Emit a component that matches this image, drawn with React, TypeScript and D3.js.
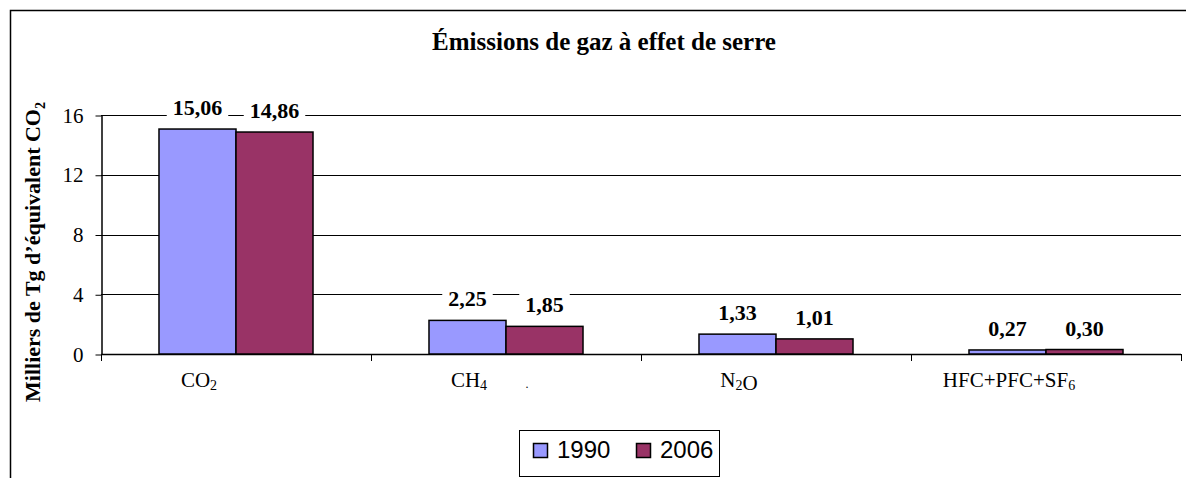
import React, { useEffect, useRef } from 'react';
import * as d3 from 'd3';

// data (milliers de Tg d'équivalent CO2)
const categories = ['CO2', 'CH4', 'N2O', 'HFC+PFC+SF6'];
const categoryLabels = [
  [['CO', false], ['2', true]],
  [['CH', false], ['4', true]],
  [['N', false], ['2', true], ['O', false]],
  [['HFC+PFC+SF', false], ['6', true]],
];
const years = ['1990', '2006'];
const values1990 = [15.06, 2.25, 1.33, 0.27];
const values2006 = [14.86, 1.85, 1.01, 0.3];
const yTicks = [0, 4, 8, 12, 16];
const colors = ['#9999FF', '#993366'];

const title = 'Émissions de gaz à effet de serre';
const yTitle = 'Milliers de Tg d\u2019équivalent CO';

const serif = '"Liberation Serif", "Times New Roman", serif';
const sans = '"Liberation Sans", Arial, sans-serif';

const width = 1186;
const height = 478;

function App() {
  const ref = useRef(null);

  useEffect(() => {
    const svg = d3.select(ref.current);
    svg.selectAll('*').remove();

    const x = d3.scaleBand().domain(categories).range([101, 1181]).padding(0);
    const xs = d3
      .scaleBand()
      .domain(years)
      .range([0, x.bandwidth()])
      .paddingInner(0)
      .paddingOuter(0.753);
    const y = d3.scaleLinear().domain([0, 16]).range([354, 115]);
    const fr = d3.formatLocale({ decimal: ',', thousands: ' ', grouping: [3], currency: ['', ''] });
    const fmt = fr.format('.2f');

    // outer frame (runs off the bottom/right of the picture)
    svg
      .append('rect')
      .attr('x', 10.5)
      .attr('y', 10.5)
      .attr('width', 1200)
      .attr('height', 500)
      .attr('fill', 'white')
      .attr('stroke', '#000')
      .attr('stroke-width', 1.5);

    // title
    svg
      .append('text')
      .attr('x', 604)
      .attr('y', 50)
      .attr('text-anchor', 'middle')
      .style('font-family', serif)
      .style('font-weight', 'bold')
      .style('font-size', '25px')
      .text(title);

    // y title
    const yt = svg
      .append('text')
      .attr('transform', 'translate(40,252) rotate(-90)')
      .attr('text-anchor', 'middle')
      .style('font-family', serif)
      .style('font-weight', 'bold')
      .style('font-size', '22px');
    yt.append('tspan').text(yTitle);
    yt.append('tspan').attr('dy', 5).style('font-size', '14px').text('2');

    // gridlines
    svg
      .append('g')
      .selectAll('line')
      .data(yTicks.filter((t) => t > 0))
      .join('line')
      .attr('x1', 101)
      .attr('x2', 1181)
      .attr('y1', (d) => Math.round(y(d)) + 0.5)
      .attr('y2', (d) => Math.round(y(d)) + 0.5)
      .attr('stroke', '#000')
      .attr('stroke-width', 1);

    // y axis
    const yAxis = d3.axisLeft(y).tickValues(yTicks).tickSize(6).tickSizeOuter(0).tickPadding(12);
    const gy = svg.append('g').attr('transform', 'translate(101.5,0.5)').call(yAxis);
    gy.selectAll('text')
      .style('font-family', serif)
      .style('font-size', '21px')
      .attr('fill', '#000');
    gy.selectAll('line').attr('stroke', '#000');
    gy.select('.domain').attr('stroke', '#000').attr('stroke-width', 1.5);

    // x axis
    const gx = svg.append('g');
    gx.append('line')
      .attr('x1', 101)
      .attr('x2', 1181)
      .attr('y1', y(0) + 0.5)
      .attr('y2', y(0) + 0.5)
      .attr('stroke', '#000')
      .attr('stroke-width', 1.5);
    const bounds = categories.map((c) => x(c)).concat([x.range()[1]]);
    gx.selectAll('.tick')
      .data(bounds)
      .join('line')
      .attr('class', 'tick')
      .attr('x1', (d) => d + 0.5)
      .attr('x2', (d) => d + 0.5)
      .attr('y1', y(0))
      .attr('y2', y(0) + 7)
      .attr('stroke', '#000');

    const labels = gx
      .selectAll('.cat')
      .data(categories)
      .join('text')
      .attr('class', 'cat')
      .attr('x', (d) => x(d) + x.bandwidth() / 2 - 37)
      .attr('y', 387)
      .attr('text-anchor', 'middle')
      .style('font-family', serif)
      .style('font-size', '21px');
    labels.each(function (d, i) {
      const t = d3.select(this);
      categoryLabels[i].forEach(([s, sub]) => {
        t.append('tspan')
          .attr('dy', sub ? 3 : 0)
          .style('font-size', sub ? '14px' : '21px')
          .text(s);
        if (sub) t.append('tspan').attr('dy', -3).text('');
      });
    });
    // stray dot under the axis, as in the source
    gx.append('text')
      .attr('x', 527)
      .attr('y', 388)
      .attr('text-anchor', 'middle')
      .style('font-family', serif)
      .style('font-size', '12px')
      .text('.');

    // bars
    const series = [values1990, values2006];
    const bars = [];
    categories.forEach((c, i) => {
      years.forEach((yr, j) => {
        bars.push({ c, yr, j, v: series[j][i] });
      });
    });

    svg
      .append('g')
      .selectAll('rect')
      .data(bars)
      .join('rect')
      .attr('x', (d) => x(d.c) + xs(d.yr))
      .attr('y', (d) => y(d.v))
      .attr('width', xs.bandwidth())
      .attr('height', (d) => y(0) - y(d.v))
      .attr('fill', (d) => colors[d.j])
      .attr('stroke', '#000')
      .attr('stroke-width', 1.5);

    // value labels with white boxes
    const gl = svg.append('g');
    bars.forEach((d) => {
      const cx = x(d.c) + xs(d.yr) + xs.bandwidth() / 2;
      const g = gl.append('g');
      const rect = g.append('rect').attr('fill', 'white');
      const t = g
        .append('text')
        .attr('x', cx)
        .attr('y', y(d.v) - 14)
        .attr('text-anchor', 'middle')
        .style('font-family', serif)
        .style('font-weight', 'bold')
        .style('font-size', '22px')
        .text(fmt(d.v));
      const bb = t.node().getBBox();
      rect
        .attr('x', bb.x - 6)
        .attr('y', bb.y)
        .attr('width', bb.width + 12)
        .attr('height', bb.height);
    });

    // legend
    const lg = svg.append('g');
    lg.append('rect')
      .attr('x', 519.5)
      .attr('y', 430.5)
      .attr('width', 200)
      .attr('height', 46)
      .attr('fill', 'white')
      .attr('stroke', '#000');
    const legendX = d3.scalePoint().domain(years).range([533, 636]);
    years.forEach((yr, j) => {
      lg.append('rect')
        .attr('x', legendX(yr) + 0.5)
        .attr('y', 443.5)
        .attr('width', 14)
        .attr('height', 14)
        .attr('fill', colors[j])
        .attr('stroke', '#000')
        .attr('stroke-width', 1.5);
      lg.append('text')
        .attr('x', legendX(yr) + 24)
        .attr('y', 458)
        .style('font-family', sans)
        .style('font-size', '24px')
        .text(yr);
    });
  }, []);

  return (
    <svg
      ref={ref}
      width={width}
      height={height}
      style={{ position: 'absolute', left: 0, top: 0, background: 'white' }}
    />
  );
}

export default App;
